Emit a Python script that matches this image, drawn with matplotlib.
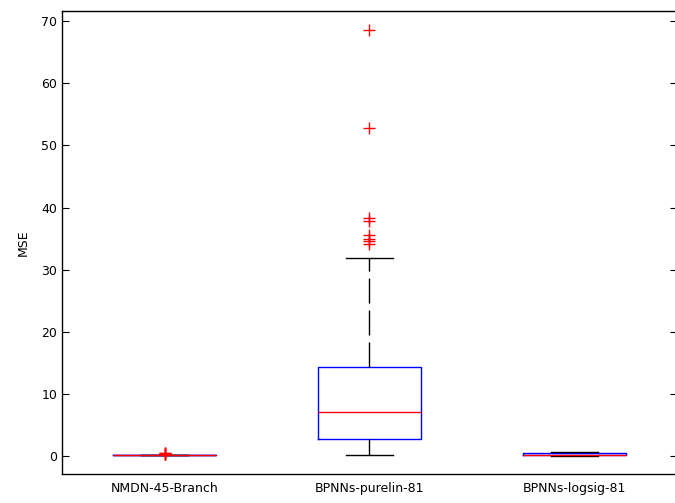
import numpy as np
import matplotlib
matplotlib.use("Agg")
import matplotlib.pyplot as plt

plt.rcParams['font.family'] = ['Liberation Sans Narrow', 'DejaVu Sans']

labels = ['NMDN-45-Branch', 'BPNNs-purelin-81', 'BPNNs-logsig-81']

# box statistics
q1 = [0.1, 2.7, 0.12]
med = [0.1, 7.0, 0.15]
q3 = [0.12, 14.4, 0.45]
whislo = [0.08, 0.2, 0.05]
whishi = [0.14, 31.8, 0.6]
fliers = [
    [0.25, 0.3, 0.35, 0.4, 0.45],
    [68.6, 52.8, 38.3, 37.8, 35.6, 34.9, 34.6, 34.2],
    [],
]

stats = []
for i in range(len(labels)):
    stats.append(dict(label=labels[i], q1=q1[i], med=med[i], q3=q3[i],
                      whislo=whislo[i], whishi=whishi[i], fliers=fliers[i]))

fig = plt.figure(figsize=(6.75, 5.03), dpi=100)
ax = fig.add_axes([0.0919, 0.0577, 0.911, 0.920])

ax.bxp(stats, widths=0.5, capwidths=0.23, showfliers=True,
       boxprops=dict(color='blue', linewidth=1),
       medianprops=dict(color='red', linewidth=1, zorder=3),
       whiskerprops=dict(color='black', linewidth=1, linestyle=(0, (18, 5))),
       capprops=dict(color='black', linewidth=1),
       flierprops=dict(marker='+', markeredgecolor='red', markersize=9,
                       markeredgewidth=1, linestyle='none'))

ax.set_xlim(0.5, 3.5)
ax.set_ylim(-2.9, 71.6)
ax.set_yticks(np.arange(0, 71, 10))
ax.set_ylabel('MSE', fontsize=9, labelpad=8)
ax.tick_params(axis='y', direction='in', length=5, right=True, labelsize=9)
ax.tick_params(axis='x', length=0, labelsize=9, pad=6)
for s in ax.spines.values():
    s.set_linewidth(1)

fig.savefig('out.png', dpi=100)
